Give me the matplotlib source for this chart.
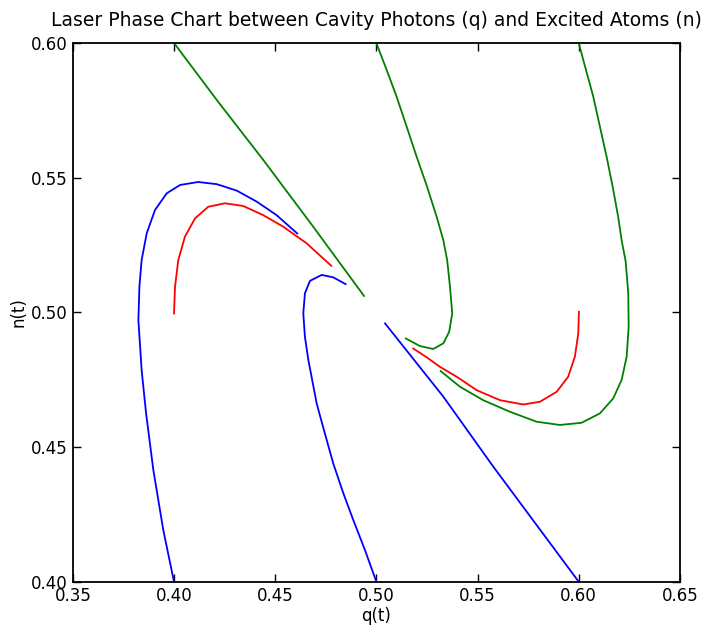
import matplotlib
matplotlib.use("Agg")
import matplotlib.pyplot as plt

# Trajectories (q = cavity photons, n = excited atoms)
blue1_q = [0.4000, 0.3947, 0.3898, 0.3862, 0.3840, 0.3824, 0.3829, 0.3840, 0.3865,
           0.3906, 0.3964, 0.4030, 0.4120, 0.4211, 0.4310, 0.4409, 0.4507, 0.4609]
blue1_n = [0.4000, 0.4192, 0.4414, 0.4625, 0.4786, 0.4971, 0.5095, 0.5194, 0.5293,
           0.5380, 0.5442, 0.5473, 0.5484, 0.5476, 0.5452, 0.5411, 0.5361, 0.5293]

blue2_q = [0.5000, 0.4944, 0.4886, 0.4837, 0.4787, 0.4741, 0.4705, 0.4664, 0.4647,
           0.4639, 0.4647, 0.4672, 0.4730, 0.4787, 0.4848]
blue2_n = [0.4000, 0.4117, 0.4229, 0.4328, 0.4439, 0.4563, 0.4662, 0.4823, 0.4909,
           0.4996, 0.5071, 0.5117, 0.5139, 0.5130, 0.5105]

blue3_q = [0.6000, 0.5578, 0.5331, 0.5043]
blue3_n = [0.4000, 0.4427, 0.4687, 0.4959]

green1_q = [0.4000, 0.4220, 0.4441, 0.4688, 0.4939]
green1_n = [0.6000, 0.5780, 0.5566, 0.5318, 0.5061]

green2_q = [0.5000, 0.5051, 0.5100, 0.5150, 0.5199, 0.5251, 0.5298, 0.5331, 0.5350,
            0.5364, 0.5375, 0.5360, 0.5331, 0.5281, 0.5215, 0.5146]
green2_n = [0.6000, 0.5900, 0.5801, 0.5689, 0.5578, 0.5466, 0.5355, 0.5268, 0.5194,
            0.5095, 0.4996, 0.4928, 0.4885, 0.4864, 0.4875, 0.4903]

green3_q = [0.6000, 0.6036, 0.6072, 0.6105, 0.6138, 0.6168, 0.6195, 0.6212, 0.6232,
            0.6245, 0.6247, 0.6237, 0.6212, 0.6171, 0.6105, 0.6014, 0.5907, 0.5792,
            0.5660, 0.5528, 0.5413, 0.5318]
green3_n = [0.6000, 0.5900, 0.5801, 0.5689, 0.5578, 0.5466, 0.5355, 0.5268, 0.5190,
            0.5071, 0.4947, 0.4835, 0.4749, 0.4681, 0.4625, 0.4590, 0.4582, 0.4594,
            0.4631, 0.4674, 0.4724, 0.4782]

red1_q = [0.4000, 0.4005, 0.4021, 0.4054, 0.4104, 0.4169, 0.4252, 0.4342, 0.4441,
          0.4540, 0.4656, 0.4777]
red1_n = [0.4996, 0.5095, 0.5194, 0.5281, 0.5349, 0.5392, 0.5405, 0.5395, 0.5361,
          0.5318, 0.5256, 0.5173]

red2_q = [0.6001, 0.5998, 0.5981, 0.5948, 0.5891, 0.5808, 0.5726, 0.5611, 0.5496,
          0.5397, 0.5314, 0.5249, 0.5182]
red2_n = [0.5002, 0.4922, 0.4835, 0.4761, 0.4705, 0.4668, 0.4658, 0.4674, 0.4711,
          0.4761, 0.4798, 0.4833, 0.4866]

x_ticks = [0.35, 0.40, 0.45, 0.50, 0.55, 0.60, 0.65]
y_ticks = [0.40, 0.45, 0.50, 0.55, 0.60]

plt.rcParams['font.family'] = ['DejaVu Sans']
fig = plt.figure(figsize=(7.03, 6.28), dpi=100, facecolor='white')
ax = fig.add_axes([0.1036, 0.0737, 0.8635, 0.8578])

ax.plot(blue1_q, blue1_n, color='b', lw=1.3)
ax.plot(blue2_q, blue2_n, color='b', lw=1.3)
ax.plot(blue3_q, blue3_n, color='b', lw=1.3)
ax.plot(red1_q, red1_n, color='r', lw=1.3)
ax.plot(red2_q, red2_n, color='r', lw=1.3)
ax.plot(green1_q, green1_n, color='g', lw=1.3)
ax.plot(green2_q, green2_n, color='g', lw=1.3)
ax.plot(green3_q, green3_n, color='g', lw=1.3)

ax.set_xlim(0.35, 0.65)
ax.set_ylim(0.40, 0.60)
ax.set_xticks(x_ticks)
ax.set_yticks(y_ticks)
ax.set_xticklabels([f"{v:.2f}" for v in x_ticks])
ax.set_yticklabels([f"{v:.2f}" for v in y_ticks])
ax.tick_params(direction='in', top=True, right=True, length=6, width=1,
               labelsize=12, pad=4)
for s in ax.spines.values():
    s.set_linewidth(1.3)

ax.set_xlabel('q(t)', fontsize=12, labelpad=1)
ax.set_ylabel('n(t)', fontsize=12, labelpad=2)
ax.set_title('Laser Phase Chart between Cavity Photons (q) and Excited Atoms (n)',
             fontsize=13.5, pad=12)

fig.savefig('out.png', dpi=100, facecolor='white')
